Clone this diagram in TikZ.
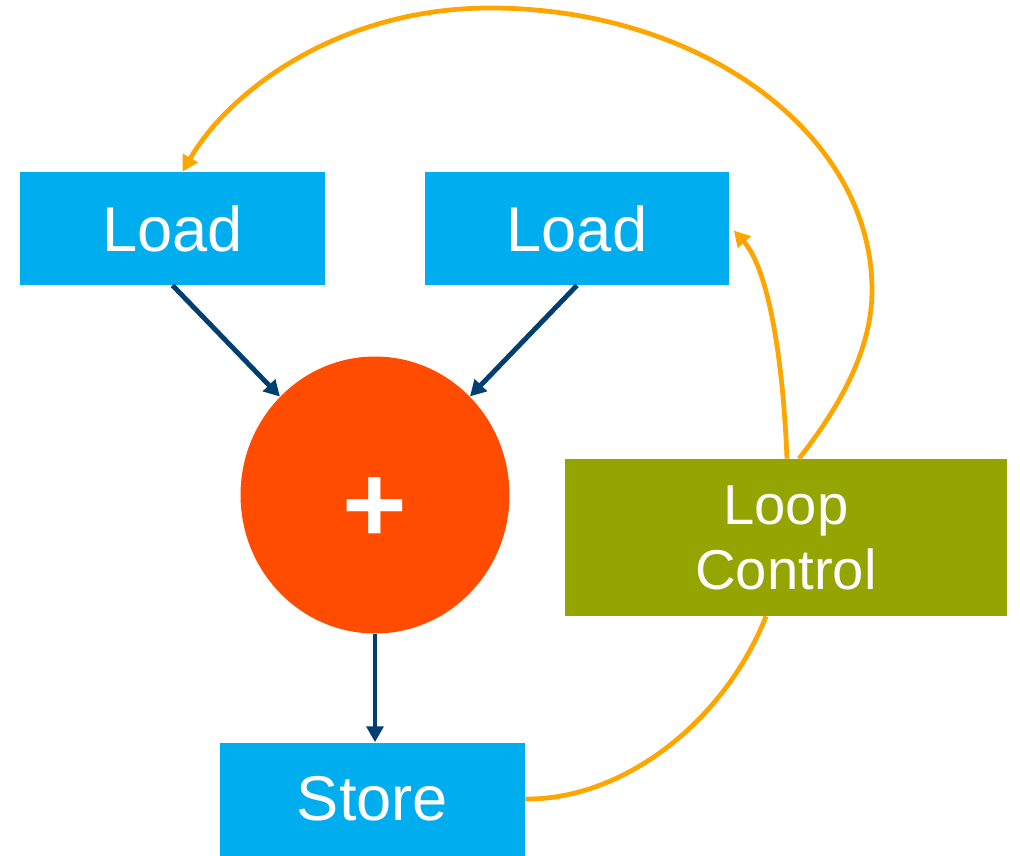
\documentclass[tikz,border=0pt]{standalone}
\usepackage{fontspec}
\setmainfont{Liberation Sans}
\usetikzlibrary{arrows.meta,calc,shapes.geometric}
\definecolor{boxblue}{HTML}{00ADEF}
\definecolor{opred}{HTML}{FF4C00}
\definecolor{ctrlolive}{HTML}{94A400}
\definecolor{flowblue}{HTML}{003F72}
\definecolor{loopor}{HTML}{FFA500}
\tikzset{
  unitbox/.style={fill=boxblue, text=white, minimum width=6.1cm, minimum height=2.26cm,
    inner sep=0pt, font=\fontsize{36}{42}\selectfont},
  dataflow/.style={draw=flowblue, line width=2.8pt, -{Triangle[length=9pt,width=9.5pt]}},
  ctrlflow/.style={draw=loopor, line width=2.7pt},
  ctrltip/.style={-{Triangle[length=9pt,width=9.5pt]}}
}
\begin{document}
\begin{tikzpicture}[x=0.02cm,y=-0.02cm]
\useasboundingbox (0,0) rectangle (1020,855);

\node[unitbox] (l1) at (172.5,228.5) {Load};
\node[unitbox] (l2) at (577,228.5) {Load};
\node[unitbox] (st) at (372.5,799) {Store};
\node[ellipse, fill=opred, minimum width=5.38cm, minimum height=5.54cm, inner sep=0pt,
      label={[text=white, font=\fontsize{63}{63}\selectfont\bfseries, yshift=-8.5pt]center:+}]
      (plus) at (375,495) {};
\node[fill=ctrlolive, text=white, minimum width=8.84cm, minimum height=3.14cm, inner sep=0pt,
      align=center, font=\fontsize{32}{37}\selectfont] (lc) at (786,537.5) {Loop\\Control};

% data flow
\draw[dataflow] (l1.south) -- (plus);
\draw[dataflow] (l2.south) -- (plus);
\draw[dataflow] (plus.south) -- (plus.south |- st.north);

% loop control edges
\draw[ctrlflow,ctrltip] ($(lc.north)+(1,0)$) .. controls (782,340) and (765,265) .. ($(l2.east)+(4,2)$);
\draw[ctrlflow,ctrltip] ($(lc.north)+(13,0)$) .. controls (845,400) and (872,345) .. (872,290)
  .. controls (872,134) and (701,8) .. (490,8)
  .. controls (340,8) and (230,90) .. ($(l1.north)+(10,0)$);
\draw[ctrlflow] ($(lc.south)+(-20,0)$) .. controls (725,720) and (625,800) .. (st.east);
\end{tikzpicture}
\end{document}
